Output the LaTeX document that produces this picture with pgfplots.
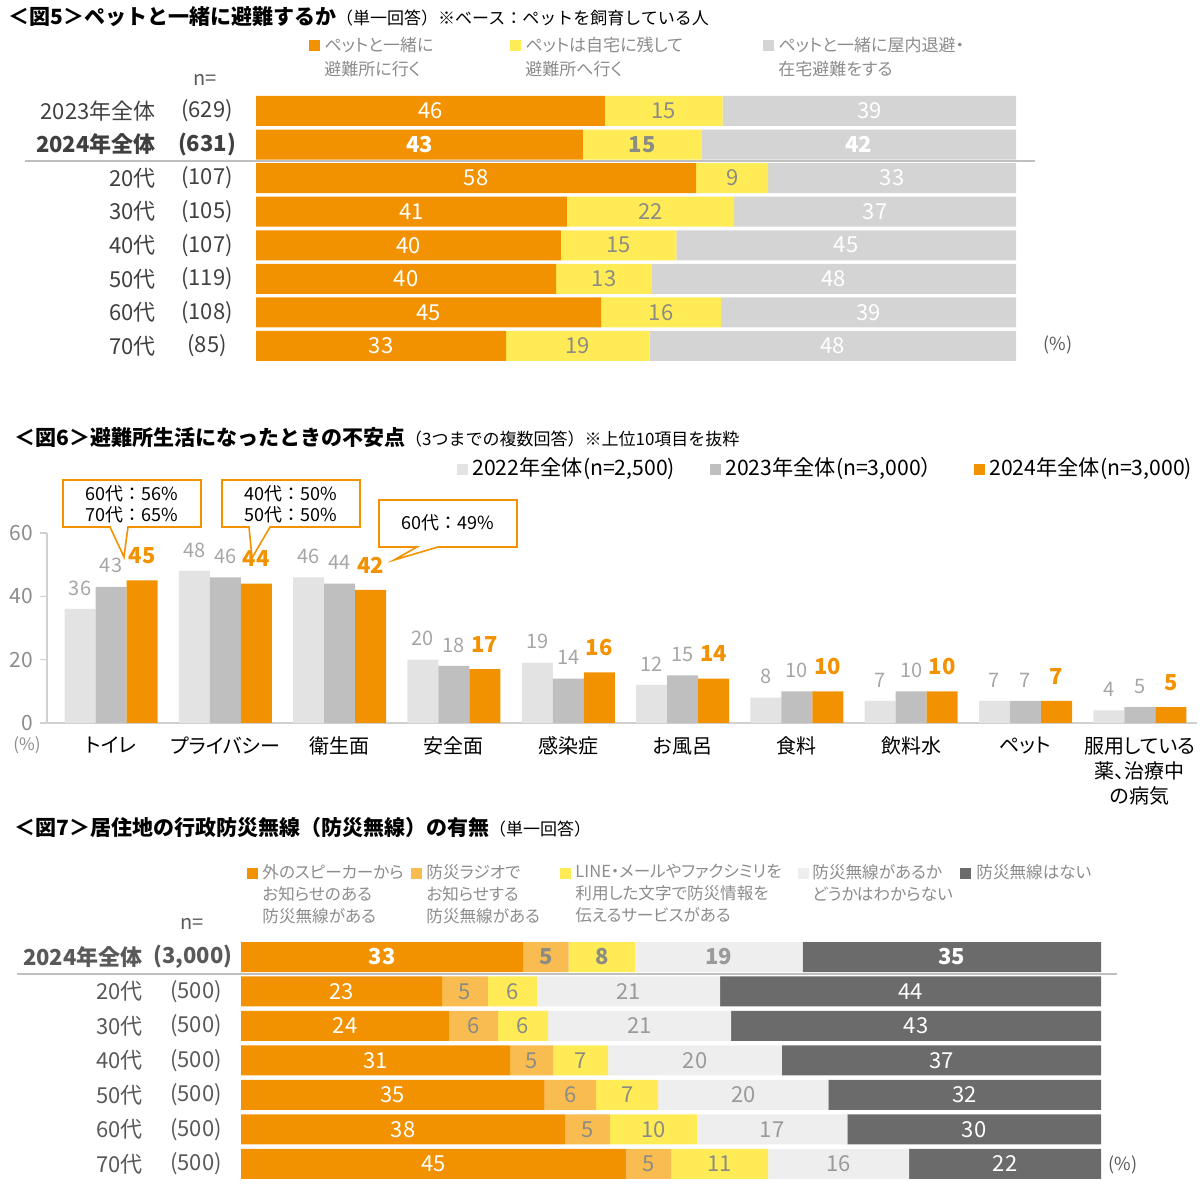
\documentclass[border=0pt]{standalone}
\usepackage{fontspec}
\setmainfont{Noto Sans CJK JP}[RawFeature=+palt]
\newfontfamily\np{Noto Sans CJK JP}
\usepackage{pgfplots}
\pgfplotsset{compat=1.18}
\usepackage{pgfplotstable}
\definecolor{cor}{HTML}{F39200}
\definecolor{cyel}{HTML}{FFEB55}
\definecolor{cgfive}{HTML}{D4D4D4}
\definecolor{cone}{HTML}{E3E3E3}
\definecolor{ctwo}{HTML}{BFBFBF}
\definecolor{clor}{HTML}{F9BC50}
\definecolor{cvl}{HTML}{EEEEEE}
\definecolor{cdk}{HTML}{6B6B6B}
\definecolor{labg}{HTML}{8C8C84}
\definecolor{labl}{HTML}{9A9A9A}
\definecolor{txt}{HTML}{404040}
\definecolor{txtb}{HTML}{595959}
\definecolor{leg}{HTML}{8C8C8C}
\definecolor{axc}{HTML}{D0D0D0}
\definecolor{tick6}{HTML}{8C8C8C}
\definecolor{lab6}{HTML}{A6A6A6}
\newcommand\fs[2]{\fontsize{#1}{#2}\selectfont}

\pgfplotstableread{
r a b c la lb lc
0 45.9 15.5 38.6 46 15 39
1 43.0 15.6 41.4 43 15 42
2 57.9 9.5 32.6 58 9 33
3 40.9 22.0 37.1 41 22 37
4 40.1 15.2 44.7 40 15 45
5 39.5 12.6 47.9 40 13 48
6 45.4 15.8 38.8 45 16 39
7 32.9 18.9 48.2 33 19 48
}\tfive
\pgfplotstablecreatecol[create col/expr={\thisrow{a}/2}]{ma}\tfive
\pgfplotstablecreatecol[create col/expr={\thisrow{a}+\thisrow{b}/2}]{mb}\tfive
\pgfplotstablecreatecol[create col/expr={\thisrow{a}+\thisrow{b}+\thisrow{c}/2}]{mc}\tfive

\pgfplotstableread{
r a b c d e la lb lc ld le
0 32.8 5.3 7.7 19.5 34.7 33 5 8 19 35
1 23.4 5.3 5.7 21.3 44.3 23 5 6 21 44
2 24.2 5.7 5.8 21.3 43.0 24 6 6 21 43
3 31.3 5.0 6.4 20.2 37.1 31 5 7 20 37
4 35.3 6.0 7.2 19.8 31.7 35 6 7 20 32
5 37.7 5.2 10.1 17.5 29.5 38 5 10 17 30
6 44.8 5.2 11.3 16.4 22.3 45 5 11 16 22
}\tseven
\pgfplotstablecreatecol[create col/expr={\thisrow{a}/2}]{ma}\tseven
\pgfplotstablecreatecol[create col/expr={\thisrow{a}+\thisrow{b}/2}]{mb}\tseven
\pgfplotstablecreatecol[create col/expr={\thisrow{a}+\thisrow{b}+\thisrow{c}/2}]{mc}\tseven
\pgfplotstablecreatecol[create col/expr={\thisrow{a}+\thisrow{b}+\thisrow{c}+\thisrow{d}/2}]{md}\tseven
\pgfplotstablecreatecol[create col/expr={\thisrow{a}+\thisrow{b}+\thisrow{c}+\thisrow{d}+\thisrow{e}/2}]{me}\tseven

\pgfplotstableread{
x y22 y23 y24
0 36 43 45
1 48 46 44
2 46 44 42
3 20 18 17
4 19 14 16
5 12 15 14
6 8 10 10
7 7 10 10
8 7 7 7
9 4 5 5
}\tsix

\pgfplotsset{
  fgeom/.style={at={(128pt,-47.1pt)}, anchor=north west, width=380pt, height=134.3pt,
    scale only axis, xmin=0, xmax=100, ymin=-0.5, ymax=7.5, y dir=reverse, axis lines=none, clip=false},
  sgeom/.style={at={(120.5pt,-469.875pt)}, anchor=north west, width=430pt, height=120.75pt,
    scale only axis, xmin=0, xmax=100, ymin=-0.5, ymax=6.5, y dir=reverse, axis lines=none, clip=false},
  lab/.style={point meta=explicit symbolic, nodes near coords,
    every node near coord/.append style={anchor=center, font=\fs{11}{13}}},
}
% #1 colour, #2 x column, #3 label column, #4 table, #5 bold row
\newcommand\lp[5]{%
\addplot[only marks, mark=none, y filter/.expression={y==#5 ? nan : y},
  every node near coord/.append style={text=#1}] table[x=#2,y=r,meta=#3]{#4};
\addplot[only marks, mark=none, y filter/.expression={y==#5 ? y : nan},
  every node near coord/.append style={text=#1, font=\bfseries\fs{11}{13}}] table[x=#2,y=r,meta=#3]{#4};
}

\begin{document}
\begin{tikzpicture}
\path[use as bounding box] (0pt,0pt) rectangle (600pt,-593pt);

% ---------- Fig 5 bars
\begin{axis}[fgeom, xbar stacked, bar width=15pt]
\addplot[fill=cor, draw=none] table[x=a,y=r]{\tfive};
\addplot[fill=cyel, draw=none] table[x=b,y=r]{\tfive};
\addplot[fill=cgfive, draw=none] table[x=c,y=r]{\tfive};
\end{axis}
\begin{axis}[fgeom, lab]
\lp{white}{ma}{la}{\tfive}{1}
\lp{labg}{mb}{lb}{\tfive}{1}
\lp{white}{mc}{lc}{\tfive}{1}
\end{axis}

% ---------- Fig 6
\begin{axis}[at={(23.5pt,-361.5pt)}, anchor=south west, width=575pt, height=95pt, scale only axis,
  xmin=-0.56, xmax=9.5, ymin=0, ymax=60, ybar=0pt, bar width=15.5pt, clip=false,
  axis lines*=left, axis line style={draw=axc, line width=0.8pt},
  ytick={0,20,40,60}, xtick={0,...,9},
  xticklabels={トイレ,プライバシー,衛生面,安全面,感染症,お風呂,食料,飲料水,ペット,{服用している\\薬、治療中\\の病気}},
  x tick label style={align=center, font=\fs{10}{12.5}, text=black, yshift=0pt},
  xtick style={draw=none}, ytick style={draw=axc, line width=0.8pt}, tick align=outside, major tick length=3.5pt,
  y tick label style={font=\fs{10.5}{12}, text=tick6},
  /pgf/number format/assume math mode=true,
  nodes near coords,
  every node near coord/.append style={font=\fs{10}{12}, text=lab6, yshift=3.3pt},
]
\addplot[fill=cone, draw=none] table[x=x,y=y22]{\tsix};
\addplot[fill=ctwo, draw=none] table[x=x,y=y23]{\tsix};
\addplot[fill=cor, draw=none, every node near coord/.append style={font=\bfseries\fs{11}{12}, text=cor, yshift=1.5pt}] table[x=x,y=y24]{\tsix};
\end{axis}

% ---------- Fig 7 bars
\begin{axis}[sgeom, xbar stacked, bar width=15pt]
\addplot[fill=cor, draw=none] table[x=a,y=r]{\tseven};
\addplot[fill=clor, draw=none] table[x=b,y=r]{\tseven};
\addplot[fill=cyel, draw=none] table[x=c,y=r]{\tseven};
\addplot[fill=cvl, draw=none] table[x=d,y=r]{\tseven};
\addplot[fill=cdk, draw=none] table[x=e,y=r]{\tseven};
\end{axis}
\begin{axis}[sgeom, lab]
\lp{white}{ma}{la}{\tseven}{0}
\lp{labg}{mb}{lb}{\tseven}{0}
\lp{labg}{mc}{lc}{\tseven}{0}
\lp{labl}{md}{ld}{\tseven}{0}
\lp{white}{me}{le}{\tseven}{0}
\end{axis}

% ---------- annotations (px coordinates)
\begin{scope}[x=0.5pt, y=-0.5pt]
% Fig5 title & legend
\node[anchor=west, inner sep=0pt, text=black] at (8,17) {\np\fs{10.5}{12}\textbf{＜図5＞ペットと一緒に避難するか}\fs{8.5}{10}（単一回答）※ベース：ペットを飼育している人};
\fill[cor] (309,40) rectangle (320,51);
\node[anchor=north west, inner sep=0pt, align=left, text=leg, font=\fs{8.5}{12}] at (324,37) {ペットと一緒に\\避難所に行く};
\fill[cyel] (510,40) rectangle (521,51);
\node[anchor=north west, inner sep=0pt, align=left, text=leg, font=\fs{8.5}{12}] at (525,37) {ペットは自宅に残して\\避難所へ行く};
\fill[cgfive] (763,40) rectangle (774,51);
\node[anchor=north west, inner sep=0pt, align=left, text=leg, font=\fs{8.5}{12}] at (778,37) {ペットと一緒に屋内退避・\\在宅避難をする};
\node[text=txtb, font=\fs{10}{12}] at (205,80) {n=};
\node[text=txtb, font=\fs{9}{12}] at (1058,345) {(\%)};
\foreach \nm/\nn [count=\i from 0] in {2023年全体/(629),2024年全体/(631),20代/(107),30代/(105),40代/(107),50代/(119),60代/(108),70代/(85)}{
  \pgfmathsetmacro\yy{111+33.57*\i}
  \node[anchor=east, inner sep=0pt, text=txt, font=\fs{11}{13}] at (156,\yy) {\ifnum\i=1 \bfseries\fi\nm};
  \node[inner sep=0pt, text=txt, font=\fs{11}{13}] at (207,\yy) {\ifnum\i=1 \bfseries\fi\nn};
}
\draw[ctwo, line width=0.8pt] (25,161) -- (1035,161);

% Fig6 title & legend
\node[anchor=west, inner sep=0pt, text=black] at (14,438) {\np\fs{10.5}{12}\textbf{＜図6＞避難所生活になったときの不安点}\fs{8.5}{10}（3つまでの複数回答）※上位10項目を抜粋};
\fill[cone] (457,464) rectangle (468,475);
\node[anchor=west, inner sep=0pt, font=\fs{10.6}{12}] at (472,469) {2022年全体(n=2,500)};
\fill[ctwo] (710,464) rectangle (721,475);
\node[anchor=west, inner sep=0pt, font=\fs{10.6}{12}] at (725,469) {2023年全体(n=3,000）};
\fill[cor] (974,464) rectangle (985,475);
\node[anchor=west, inner sep=0pt, font=\fs{10.6}{12}] at (989,469) {2024年全体(n=3,000)};
\node[text=tick6, font=\fs{8.5}{10}] at (27,745) {(\%)};
% callouts
\draw[cor, line width=0.8pt, fill=white] (63,480) -- (201,480) -- (201,527) -- (128,527) -- (124,557) -- (110,527) -- (63,527) -- cycle;
\node[align=center, font=\np\fs{9}{10.5}] at (132,504) {60代：56\%\\70代：65\%};
\draw[cor, line width=0.8pt, fill=white] (222,480) -- (360,480) -- (360,527) -- (270,527) -- (252,558) -- (249,527) -- (222,527) -- cycle;
\node[align=center, font=\np\fs{9}{10.5}] at (291,504) {40代：50\%\\50代：50\%};
\draw[cor, line width=0.8pt, fill=white] (379,500) -- (517,500) -- (517,547) -- (438,547) -- (394,560) -- (417,547) -- (379,547) -- cycle;
\node[align=center, font=\np\fs{9}{10.5}] at (448,523) {60代：49\%};

% Fig7 title & legend
\node[anchor=west, inner sep=0pt, text=black] at (14,828) {\np\fs{10.5}{12}\textbf{＜図7＞居住地の行政防災無線（防災無線）の有無}\fs{8.5}{10}（単一回答）};
\fill[cor] (247,868) rectangle (258,879);
\node[anchor=north west, inner sep=0pt, align=left, text=leg, font=\fs{8.3}{11}] at (262,864) {外のスピーカーから\\お知らせのある\\防災無線がある};
\fill[clor] (411,868) rectangle (422,879);
\node[anchor=north west, inner sep=0pt, align=left, text=leg, font=\fs{8.3}{11}] at (426,864) {防災ラジオで\\お知らせする\\防災無線がある};
\fill[cyel] (560,868) rectangle (571,879);
\node[anchor=north west, inner sep=0pt, align=left, text=leg, font=\fs{8.3}{11}] at (575,864) {LINE・メールやファクシミリを\\利用した文字で防災情報を\\伝えるサービスがある};
\fill[cvl] (798,868) rectangle (809,879);
\node[anchor=north west, inner sep=0pt, align=left, text=leg, font=\fs{8.3}{11}] at (812,864) {防災無線があるか\\どうかはわからない};
\fill[cdk] (960,868) rectangle (971,879);
\node[anchor=north west, inner sep=0pt, align=left, text=leg, font=\fs{8.3}{11}] at (976,864) {防災無線はない};
\node[text=txtb, font=\fs{10}{12}] at (192,924) {n=};
\node[text=txtb, font=\fs{9}{12}] at (1123,1165) {(\%)};
\node[anchor=east, inner sep=0pt, text=txtb, font=\bfseries\fs{11}{13}] at (143,957) {2024年全体};
\node[inner sep=0pt, text=txtb, font=\bfseries\fs{11}{13}] at (193,957) {(3,000)};
\foreach \nm [count=\i from 1] in {20代,30代,40代,50代,60代,70代}{
  \pgfmathsetmacro\yy{957+34.5*\i}
  \node[anchor=east, inner sep=0pt, text=txtb, font=\fs{11}{13}] at (143,\yy) {\nm};
  \node[inner sep=0pt, text=txtb, font=\fs{11}{13}] at (196,\yy) {(500)};
}
\draw[ctwo, line width=0.8pt] (17,974) -- (1117,974);
\end{scope}
\end{tikzpicture}
\end{document}
